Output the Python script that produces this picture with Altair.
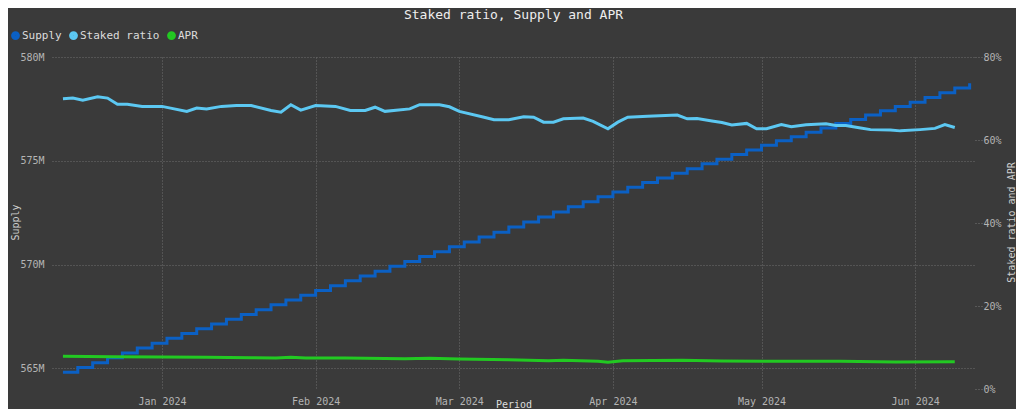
import altair as alt
import pandas as pd

MONO = "DejaVu Sans Mono"

# ---- data ----
series_names = ["Supply", "Staked ratio", "APR"]
series_colors = ["#0b60c4", "#5cc8f2", "#22c922"]

# Supply (millions), one reading every 3 days starting 2023-12-12
supply_start = "2023-12-12"
supply_every_days = 3
supply_m = [
    564.81, 565.04, 565.27, 565.51, 565.74, 565.97, 566.20, 566.44, 566.67, 566.90,
    567.13, 567.36, 567.59, 567.82, 568.06, 568.29, 568.52, 568.75, 568.98, 569.22,
    569.45, 569.68, 569.91, 570.15, 570.38, 570.61, 570.85, 571.08, 571.32, 571.56,
    571.81, 572.05, 572.29, 572.53, 572.78, 573.02, 573.26, 573.50, 573.72, 573.95,
    574.17, 574.40, 574.62, 574.85, 575.07, 575.30, 575.52, 575.75, 575.96, 576.16,
    576.37, 576.58, 576.79, 576.99, 577.20, 577.41, 577.62, 577.82, 578.05, 578.28,
    578.51, 578.74,
]

staked_dates = [
    "2023-12-12", "2023-12-14", "2023-12-16", "2023-12-19", "2023-12-21", "2023-12-23",
    "2023-12-25", "2023-12-28", "2024-01-01", "2024-01-06", "2024-01-08", "2024-01-10",
    "2024-01-13", "2024-01-16", "2024-01-19", "2024-01-23", "2024-01-25", "2024-01-27",
    "2024-01-29", "2024-02-01", "2024-02-05", "2024-02-08", "2024-02-11", "2024-02-13",
    "2024-02-15", "2024-02-20", "2024-02-22", "2024-02-26", "2024-02-28", "2024-03-01",
    "2024-03-06", "2024-03-08", "2024-03-11", "2024-03-14", "2024-03-16", "2024-03-18",
    "2024-03-20", "2024-03-22", "2024-03-26", "2024-03-28", "2024-03-31", "2024-04-02",
    "2024-04-04", "2024-04-08", "2024-04-14", "2024-04-16", "2024-04-18", "2024-04-21",
    "2024-04-23", "2024-04-25", "2024-04-28", "2024-04-30", "2024-05-02", "2024-05-05",
    "2024-05-07", "2024-05-10", "2024-05-14", "2024-05-16", "2024-05-18", "2024-05-21",
    "2024-05-23", "2024-05-27", "2024-05-29", "2024-06-02", "2024-06-05", "2024-06-07",
    "2024-06-09",
]
staked_pct = [
    69.95, 70.1, 69.6, 70.4, 70.1, 68.6,
    68.6, 68.1, 68.1, 66.9, 67.7, 67.5,
    68.1, 68.3, 68.3, 67.1, 66.7, 68.5,
    67.2, 68.3, 68.1, 67.1, 67.1, 67.9,
    66.9, 67.5, 68.5, 68.5, 68.0, 66.9,
    65.5, 64.9, 64.9, 65.6, 65.5, 64.3,
    64.3, 65.1, 65.3, 64.5, 62.7, 64.3,
    65.5, 65.7, 66.0, 65.1, 65.2, 64.6,
    64.2, 63.6, 64.0, 62.7, 62.7, 63.7,
    63.2, 63.7, 63.9, 63.5, 63.5, 62.9,
    62.5, 62.4, 62.2, 62.5, 62.8, 63.7,
    63.0,
]

apr_dates = [
    "2023-12-12", "2023-12-22", "2024-01-01", "2024-01-10", "2024-01-19", "2024-01-24",
    "2024-01-27", "2024-01-30", "2024-02-07", "2024-02-19", "2024-02-24", "2024-03-01",
    "2024-03-11", "2024-03-19", "2024-03-22", "2024-03-29", "2024-03-31", "2024-04-03",
    "2024-04-15", "2024-04-23", "2024-05-05", "2024-05-17", "2024-05-28", "2024-06-09",
]
apr_pct = [
    7.87, 7.79, 7.71, 7.63, 7.55, 7.47,
    7.65, 7.47, 7.47, 7.31, 7.39, 7.23,
    7.07, 6.83, 6.91, 6.67, 6.43, 6.83,
    6.91, 6.75, 6.67, 6.67, 6.51, 6.59,
]

supply_ticks = [565, 570, 575, 580]
pct_ticks = [0, 20, 40, 60, 80]

# ---- table ----
rows = []
t0 = pd.Timestamp(supply_start)
for i, v in enumerate(supply_m):
    d = t0 + pd.Timedelta(days=supply_every_days * i)
    rows.append({"date": d.strftime("%Y-%m-%dT00:00:00"), "value": v, "series": "Supply"})
for d, v in zip(staked_dates, staked_pct):
    rows.append({"date": d + "T00:00:00", "value": v, "series": "Staked ratio"})
for d, v in zip(apr_dates, apr_pct):
    rows.append({"date": d + "T00:00:00", "value": v, "series": "APR"})
df = pd.DataFrame(rows)

x_enc = alt.X(
    "date:T",
    title="Period",
    scale=alt.Scale(domain=[
        alt.DateTime(year=2023, month=12, date=9, hours=19),
        alt.DateTime(year=2024, month=6, date=13, hours=2),
    ]),
    axis=alt.Axis(
        values=[alt.DateTime(year=2024, month=m, date=1) for m in range(1, 7)],
        format="%b %Y",
        grid=True,
        ticks=False,
        labelPadding=7,
        titleY=15,
        titleBaseline="middle",
        titleColor="#dddddd",
    ),
)

color_enc = alt.Color(
    "series:N",
    scale=alt.Scale(domain=series_names, range=series_colors),
    legend=alt.Legend(
        title=None,
        orient="none",
        legendX=-42,
        legendY=-27,
        direction="horizontal",
        symbolType="circle",
        symbolSize=18,
        symbolStrokeWidth=4.6,
        labelFont=MONO,
        labelFontSize=11,
        labelColor="#dcdcdc",
        labelOffset=1,
        columnPadding=0,
        padding=0,
    ),
)

base = alt.Chart(df).encode(x=x_enc, color=color_enc)

supply = base.transform_filter(alt.datum.series == "Supply").mark_line(
    strokeWidth=3, interpolate="step-after"
).encode(
    y=alt.Y(
        "value:Q",
        title="Supply",
        scale=alt.Scale(domain=[564, 580], nice=False, zero=False),
        axis=alt.Axis(
            orient="left",
            values=supply_ticks,
            labelExpr="datum.value + 'M'",
            grid=True,
            ticks=False,
            labelPadding=8,
            titleX=-37,
            titleY=165,
            titleAngle=270,
            titleBaseline="middle",
            titleAlign="center",
        ),
    )
)

right = base.transform_filter(alt.datum.series != "Supply").mark_line(
    strokeWidth=3
).encode(
    y=alt.Y(
        "value:Q",
        title="Staked ratio and APR",
        scale=alt.Scale(domain=[0, 80], nice=False),
        axis=alt.Axis(
            orient="right",
            values=pct_ticks,
            labelExpr="datum.value + '%'",
            grid=False,
            ticks=True,
            tickSize=7,
            tickDash=[1, 2],
            tickColor="#777777",
            labelPadding=1,
            titleX=36,
            titleY=165,
            titleAngle=270,
            titleBaseline="middle",
            titleAlign="center",
        ),
    )
)

chart = (
    alt.layer(supply, right)
    .resolve_scale(y="independent")
    .properties(
        width=923,
        height=332,
        padding={"left": 44, "top": 49, "right": 41, "bottom": 20},
        autosize=alt.AutoSizeParams(type="none"),
        background="#3a3a3a",
        title=alt.TitleParams(
            "Staked ratio, Supply and APR",
            anchor="middle",
            frame="group",
            offset=8,
        ),
    )
    .configure_view(stroke=None)
    .configure_axis(
        labelFont=MONO,
        titleFont=MONO,
        labelFontSize=10,
        titleFontSize=10,
        labelColor="#b4b4b4",
        titleColor="#d0d0d0",
        titleFontWeight="normal",
        domain=False,
        gridColor="#6e6e6e",
        gridDash=[1, 2],
        gridWidth=1,
    )
    .configure_title(font=MONO, fontSize=13, color="#eeeeee", fontWeight="normal")
)

chart.save("out.html", embed_options={"renderer": "svg", "actions": False})
